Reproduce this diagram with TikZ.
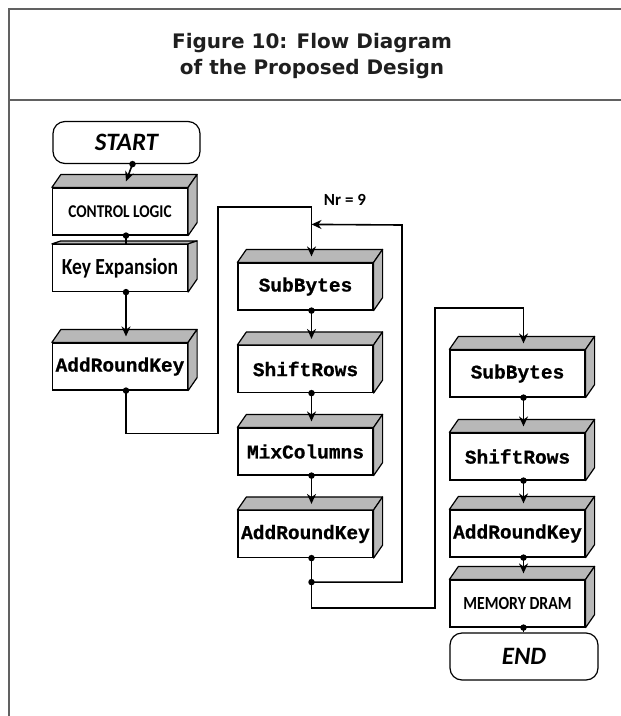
\documentclass[tikz,border=0pt]{standalone}
\usepackage{fontspec}
\usetikzlibrary{arrows.meta}
\newfontfamily\titlefont{DejaVu Sans}
\newfontfamily\codefont{Liberation Mono}[FakeBold=0.8]
\newfontfamily\capfont{Carlito}
\newfontfamily\condfont{Carlito}[FakeStretch=0.85]

% condensed sans label at a given size
\newcommand\condtext[2]{{\condfont\bfseries\fontsize{#1}{#1}\selectfont #2}}

\tikzset{
  frameline/.style={draw=black!62, line width=1.5pt},
  front/.style={draw, fill=white, line width=1.2pt, minimum width=135pt,
    minimum height=47pt, inner sep=0pt,
    font=\codefont\bfseries\fontsize{19.5}{20}\selectfont},
  face/.style={fill=black!28, draw, line width=1.2pt, line join=round},
  terminal/.style={draw, fill=white, rounded corners=12pt, line width=1.2pt,
    minimum width=147pt, minimum height=42pt, inner sep=0pt,
    font=\capfont\bfseries\itshape\fontsize{25}{26}\selectfont},
  flow/.style={line width=1.6pt},
  arr/.style={flow, -{Stealth[length=10pt,width=9pt]}},
  dot/.style={circle, fill, inner sep=0pt, minimum size=6.5pt},
}

% 3-D block: optional top depth, name, position of the front face, text
\newcommand\prism[4][13]{%
  \node[front] (#2) at (#3) {#4};
  \filldraw[face] (#2.north west) -- ++(9,-#1) -- ([shift={(9,-#1)}]#2.north east)
    -- (#2.north east) -- cycle;
  \filldraw[face] (#2.north east) -- ++(9,-#1) -- ([shift={(9,-13)}]#2.south east)
    -- (#2.south east) -- cycle;
}

\begin{document}
\begin{tikzpicture}[x=1pt,y=-1pt]
  \useasboundingbox (0,0) rectangle (621,716);

  % frame and caption
  \draw[frameline] (621,9) -- (9,9) -- (9,716);
  \draw[frameline] (9,100) -- (621,100);
  \node[font=\titlefont\bfseries\fontsize{20}{26}\selectfont, text=black!88,
        align=center] (title) at (312,56) {Figure 10: Flow Diagram\\of the Proposed Design};

  % left column
  \node[terminal] (start) at (126.5,142.5) {START};
  \prism{cl}{120,211.5}{\condtext{18}{CONTROL LOGIC}}
  \prism[3]{kx}{120,268}{\condtext{23}{Key Expansion}}
  \prism{ark1}{120,366.5}{AddRoundKey}

  % middle column (repeated rounds)
  \prism{sb1}{305.5,286.5}{SubBytes}
  \prism{sr1}{305.5,369}{ShiftRows}
  \prism{mc}{305.5,451.5}{MixColumns}
  \prism{ark2}{305.5,534}{AddRoundKey}

  % right column (final round)
  \prism{sb2}{517.5,373.5}{SubBytes}
  \prism{sr2}{517.5,456.5}{ShiftRows}
  \prism{ark3}{517.5,533.5}{AddRoundKey}
  \prism{mem}{517.5,603.5}{\condtext{18.5}{MEMORY DRAM}}
  \node[terminal, minimum width=148pt, minimum height=47pt] (end) at (524,656.5) {END};

  \node[font=\capfont\bfseries\fontsize{17}{17}\selectfont] (nr) at (345,200) {Nr = 9};

  % helper points on the flow lines
  \path ([xshift=6pt]sb1.north) ++(0,-38) coordinate (loopin);
  \path ([xshift=6pt]ark2.south) ++(0,24) coordinate (junc);

  % left column flow
  \draw[arr] ([xshift=6pt]start.south) -- ([shift={(6,-6)}]cl.north);
  \node[dot] at ([xshift=6pt]start.south) {};
  \draw[flow] ([xshift=6pt]cl.south) -- ([xshift=6pt]kx.north);
  \node[dot] at ([xshift=6pt]cl.south) {};
  \draw[arr] ([xshift=6pt]kx.south) -- ([shift={(6,-6)}]ark1.north);
  \node[dot] at ([xshift=6pt]kx.south) {};

  % into the round loop
  \draw[arr] ([xshift=6pt]ark1.south) -- ++(0,43) -| (218,207) -| ([shift={(6,-6)}]sb1.north);
  \node[dot] at ([xshift=6pt]ark1.south) {};

  % middle column flow
  \draw[arr] ([xshift=6pt]sb1.south) -- ([shift={(6,-6)}]sr1.north);
  \node[dot] at ([xshift=6pt]sb1.south) {};
  \draw[arr] ([xshift=6pt]sr1.south) -- ([shift={(6,-6)}]mc.north);
  \node[dot] at ([xshift=6pt]sr1.south) {};
  \draw[arr] ([xshift=6pt]mc.south) -- ([shift={(6,-6)}]ark2.north);
  \node[dot] at ([xshift=6pt]mc.south) {};

  % loop back for Nr rounds
  \draw[arr] (junc) -| (402,225) -- (loopin);

  % on to the final round
  \draw[arr] ([xshift=6pt]ark2.south) -- ++(0,50) -| (435,308) -| ([shift={(6,-6)}]sb2.north);
  \node[dot] at ([xshift=6pt]ark2.south) {};
  \node[dot] at (junc) {};

  % right column flow
  \draw[arr] ([xshift=6pt]sb2.south) -- ([shift={(6,-6)}]sr2.north);
  \node[dot] at ([xshift=6pt]sb2.south) {};
  \draw[arr] ([xshift=6pt]sr2.south) -- ([shift={(6,-6)}]ark3.north);
  \node[dot] at ([xshift=6pt]sr2.south) {};
  \draw[arr] ([xshift=6pt]ark3.south) -- ([shift={(6,-6)}]mem.north);
  \node[dot] at ([xshift=6pt]ark3.south) {};
  \draw[flow] ([xshift=6pt]mem.south) -- ([xshift=-0.5pt]end.north);
  \node[dot] at ([xshift=6pt]mem.south) {};
\end{tikzpicture}
\end{document}
